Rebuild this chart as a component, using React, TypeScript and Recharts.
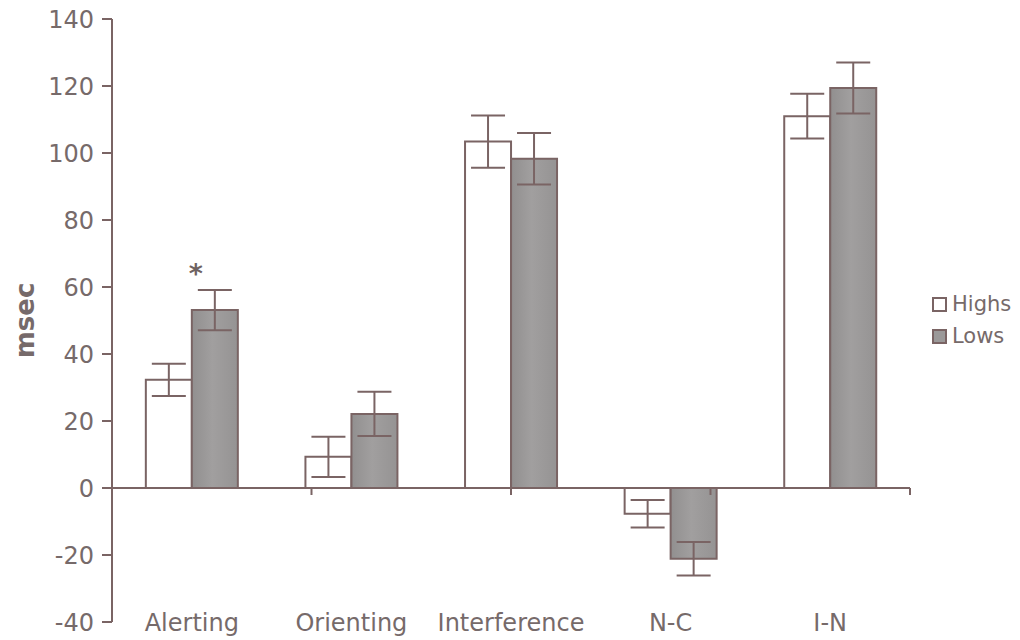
import React from 'react';
import {
  BarChart,
  Bar,
  XAxis,
  YAxis,
  ErrorBar,
  ReferenceLine,
  ReferenceDot,
  LabelList,
  Legend,
} from 'recharts';

const categories = ['Alerting', 'Orienting', 'Interference', 'N-C', 'I-N'];
const highs = [32.3, 9.3, 103.4, -7.7, 111.0];
const highsErr = [4.8, 6.0, 7.8, 4.1, 6.7];
const lows = [53.1, 22.1, 98.3, -21.1, 119.4];
const lowsErr = [6.0, 6.6, 7.7, 5.0, 7.6];
const significance = ['*', '', '', '', ''];
const yTicks = [-40, -20, 0, 20, 40, 60, 80, 100, 120, 140];
const categoryBoundaries = [1, 2, 3, 4, 5];

const data = categories.map((name, i) => ({
  name,
  highs: highs[i],
  highsErr: highsErr[i],
  lows: lows[i],
  lowsErr: lowsErr[i],
}));

const INK = '#7a6464';
const TEXT = '#766a6a';
const LOWS_FILL = '#9b9999';
const FONT = '"DejaVu Sans", Verdana, sans-serif';

const CategoryTick = (props: any) => {
  const { x, y, payload } = props;
  return (
    <text
      x={x}
      y={y}
      dy="0.36em"
      textAnchor="middle"
      fill={TEXT}
      fontSize={24}
      fontFamily={FONT}
    >
      {payload.value}
    </text>
  );
};

const Star = (props: any) => {
  const { x, y, index } = props;
  const mark = significance[index];
  if (!mark) return null;
  return (
    <text
      x={x + 4}
      y={y - 27}
      textAnchor="middle"
      fill="#6e6262"
      fontSize={27}
      fontWeight="bold"
      fontFamily={FONT}
    >
      {mark}
    </text>
  );
};

const LegendContent = () => {
  const items = [
    { label: 'Highs', fill: '#ffffff' },
    { label: 'Lows', fill: LOWS_FILL },
  ];
  return (
    <div style={{ fontFamily: FONT, fontSize: 21, color: TEXT }}>
      {items.map((it) => (
        <div
          key={it.label}
          style={{ display: 'flex', alignItems: 'center', height: 32 }}
        >
          <span
            style={{
              display: 'inline-block',
              width: 11,
              height: 11,
              border: `2px solid ${INK}`,
              background: it.fill,
              marginRight: 5,
            }}
          />
          <span>{it.label}</span>
        </div>
      ))}
    </div>
  );
};

export default function App() {
  return (
    <div
      style={{
        background: '#ffffff',
        position: 'absolute',
        top: 0,
        left: 0,
        width: 1020,
        height: 640,
        overflow: 'hidden',
      }}
    >
      <BarChart
        width={1020}
        height={640}
        data={data}
        margin={{ top: 19, right: 20, bottom: 0, left: 0 }}
        barCategoryGap="21.2%"
        barGap={0}
      >
        <defs>
          <linearGradient id="lowsFill" x1="0" y1="0" x2="1" y2="0">
            <stop offset="0%" stopColor="#918f8f" />
            <stop offset="45%" stopColor="#a19f9f" />
            <stop offset="100%" stopColor="#959393" />
          </linearGradient>
        </defs>
        <XAxis
          dataKey="name"
          height={18}
          axisLine={false}
          tickLine={false}
          tickSize={0}
          tickMargin={0}
          tick={<CategoryTick />}
          interval={0}
        />
        <XAxis xAxisId="grid" type="number" domain={[0, 5]} hide />
        <YAxis
          width={112}
          domain={[-40, 140]}
          ticks={yTicks}
          interval={0}
          allowDataOverflow
          axisLine={{ stroke: INK, strokeWidth: 2 }}
          tickLine={{ stroke: INK, strokeWidth: 2 }}
          tickSize={10}
          tickMargin={8}
          tick={{ fill: TEXT, fontSize: 24, fontFamily: FONT }}
          label={{
            value: 'msec',
            angle: -90,
            position: 'center',
            dx: -31,
            style: {
              fill: TEXT,
              fontSize: 26,
              fontWeight: 'bold',
              fontFamily: FONT,
            },
          }}
        />
        <Legend
          layout="vertical"
          verticalAlign="middle"
          align="right"
          content={<LegendContent />}
          wrapperStyle={{ left: 932, top: 288, width: 90 }}
        />
        <Bar
          dataKey="highs"
          fill="#ffffff"
          stroke={INK}
          strokeWidth={2}
          isAnimationActive={false}
        >
          <ErrorBar
            dataKey="highsErr"
            width={17}
            stroke={INK}
            strokeWidth={2}
            isAnimationActive={false}
          />
        </Bar>
        <Bar
          dataKey="lows"
          fill="url(#lowsFill)"
          stroke={INK}
          strokeWidth={2}
          isAnimationActive={false}
        >
          <ErrorBar
            dataKey="lowsErr"
            width={17}
            stroke={INK}
            strokeWidth={2}
            isAnimationActive={false}
          />
          <LabelList dataKey="lows" content={<Star />} />
        </Bar>
        <ReferenceLine y={0} stroke={INK} strokeWidth={2} />
        {categoryBoundaries.map((b) => (
          <ReferenceDot
            key={b}
            xAxisId="grid"
            x={b}
            y={0}
            isFront
            shape={(p: any) => (
              <line
                x1={p.cx}
                x2={p.cx}
                y1={p.cy}
                y2={p.cy + 7}
                stroke={INK}
                strokeWidth={2}
              />
            )}
          />
        ))}
      </BarChart>
    </div>
  );
}
